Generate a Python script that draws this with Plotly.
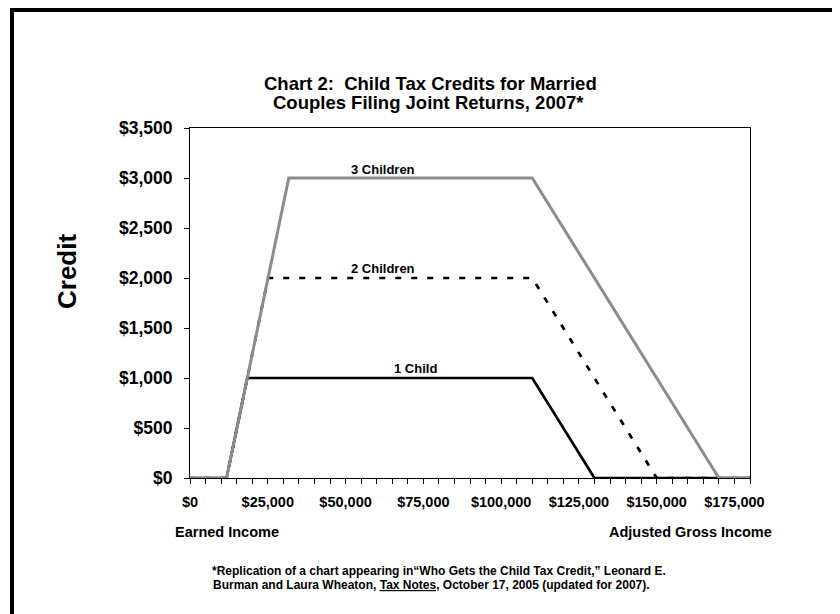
import plotly.graph_objects as go

# ---- data ----
series_names = ["1 Child", "2 Children", "3 Children"]
income_1 = [0, 11750, 18417, 110000, 130000, 180000]
credit_1 = [0, 0, 1000, 1000, 0, 0]
income_2 = [0, 11750, 25083, 110000, 150000, 180000]
credit_2 = [0, 0, 2000, 2000, 0, 0]
income_3 = [0, 11750, 31750, 110000, 170000, 180000]
credit_3 = [0, 0, 3000, 3000, 0, 0]
x_tick_vals = [0, 25000, 50000, 75000, 100000, 125000, 150000, 175000]
x_tick_text = ["$0", "$25,000", "$50,000", "$75,000", "$100,000", "$125,000", "$150,000", "$175,000"]
y_tick_vals = [0, 500, 1000, 1500, 2000, 2500, 3000, 3500]
y_tick_text = ["$0", "$500", "$1,000", "$1,500", "$2,000", "$2,500", "$3,000", "$3,500"]

FONT = "Liberation Sans, Arial, sans-serif"
W, H = 840, 614
OFF = 8  # page body margin offset of the figure within the screenshot
# plot area in screen pixels
SL, SR, ST, SB = 190, 750, 128, 478
L, T = SL - OFF, ST - OFF
R, B = W - (SR - OFF), H - (SB - OFF)
PW, PH = W - L - R, H - T - B

def px(x):
    return (x - OFF - L) / PW

def py(y):
    return (H - B - (y - OFF)) / PH

fig = go.Figure()
fig.add_trace(go.Scatter(x=income_1, y=credit_1, mode="lines", name=series_names[0],
                         line=dict(color="#000000", width=2.7)))
fig.add_trace(go.Scatter(x=income_2, y=credit_2, mode="lines", name=series_names[1],
                         line=dict(color="#000000", width=2.7, dash="6px,10px")))
fig.add_trace(go.Scatter(x=income_3, y=credit_3, mode="lines", name=series_names[2],
                         line=dict(color="#8c8c8c", width=3)))

bold = dict(family=FONT, color="#000000", weight="bold")

annotations = [
    dict(x=px(430), y=py(83), xref="paper", yref="paper",
         text="Chart 2:\u00a0 Child Tax Credits for Married",
         showarrow=False, font=dict(size=18.5, **bold), xanchor="center", yanchor="middle"),
    dict(x=px(428), y=py(102), xref="paper", yref="paper",
         text="Couples Filing Joint Returns, 2007*",
         showarrow=False, font=dict(size=18.5, **bold), xanchor="center", yanchor="middle"),
    dict(x=px(67), y=py(272), xref="paper", yref="paper", text="Credit", textangle=-90,
         showarrow=False, font=dict(size=26, **bold), xanchor="center", yanchor="middle"),
    dict(x=px(173), y=py(532), xref="paper", yref="paper", text="Earned Income",
         showarrow=False, font=dict(size=14.5, **bold), xanchor="left", yanchor="middle"),
    dict(x=px(774), y=py(532), xref="paper", yref="paper", text="Adjusted Gross Income",
         showarrow=False, font=dict(size=14.5, **bold), xanchor="right", yanchor="middle"),
    dict(x=px(210), y=py(571), xref="paper", yref="paper",
         text="*Replication of a chart appearing in\u201cWho Gets the Child Tax Credit,\u201d Leonard E.",
         showarrow=False, font=dict(size=12, **bold), xanchor="left", yanchor="middle"),
    dict(x=px(211), y=py(585), xref="paper", yref="paper",
         text="Burman and Laura Wheaton, <u>Tax Notes</u>, October 17, 2005 (updated for 2007).",
         showarrow=False, font=dict(size=12, **bold), xanchor="left", yanchor="middle"),
    dict(x=62000, y=credit_3[2], xref="x", yref="y", text=series_names[2], showarrow=False,
         font=dict(size=13, **bold), xanchor="center", yanchor="bottom", yshift=-1),
    dict(x=62000, y=credit_2[2], xref="x", yref="y", text=series_names[1], showarrow=False,
         font=dict(size=13, **bold), xanchor="center", yanchor="bottom", yshift=0),
    dict(x=72500, y=credit_1[2], xref="x", yref="y", text=series_names[0], showarrow=False,
         font=dict(size=13, **bold), xanchor="center", yanchor="bottom", yshift=0),
]

shapes = [
    dict(type="path", xref="paper", yref="paper",
         path=f"M {px(12)} {py(H + 20)} L {px(12)} {py(10)} L {px(W + 20)} {py(10)}",
         line=dict(color="#000000", width=4)),
]

fig.update_layout(
    width=W, height=H,
    margin=dict(l=L, r=R, t=T, b=B),
    paper_bgcolor="white", plot_bgcolor="white",
    showlegend=False,
    font=dict(family=FONT, color="#000000"),
    annotations=annotations,
    shapes=shapes,
    xaxis=dict(range=[0, 180000], tickvals=x_tick_vals, ticktext=x_tick_text,
               showgrid=False, zeroline=False, showline=True, linecolor="#000000", linewidth=1,
               mirror=True, ticks="outside", ticklen=5, tickcolor="#000000",
               ticklabelstandoff=6,
               minor=dict(dtick=5000, tick0=0, ticks="outside", ticklen=5, tickcolor="#000000", showgrid=False),
               tickfont=dict(size=14.5, **bold)),
    yaxis=dict(range=[0, 3500], tickvals=y_tick_vals, ticktext=y_tick_text,
               showgrid=False, zeroline=False, showline=True, linecolor="#000000", linewidth=1,
               mirror=True, ticks="outside", ticklen=5, tickcolor="#000000",
               ticklabelstandoff=8,
               tickfont=dict(size=17.5, **bold)),
)

fig.write_html("out.html")
